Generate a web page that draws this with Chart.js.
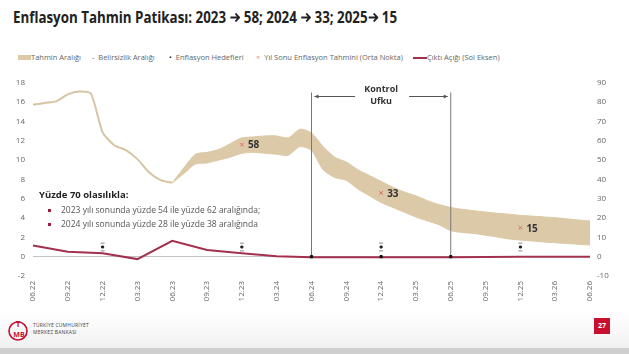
<!DOCTYPE html>
<html lang="tr">
<head>
<meta charset="utf-8">
<script src="https://cdn.jsdelivr.net/npm/chart.js@4.4.0/dist/chart.umd.min.js"></script>
<style>
    html, body { margin: 0; padding: 0; width: 629px; height: 354px; overflow: hidden; background: #fff; font-family: 'Open Sans', sans-serif; }
    #baslik { position: absolute; left: 13px; top: 6px; font-weight: 700; font-size: 16px; color: #222; white-space: nowrap; transform-origin: left top; }
    #baslik svg { vertical-align: middle; margin-top: -3px; }
    .lejant { position: absolute; top: 52px; font-size: 7.5px; line-height: 10px; color: #666; white-space: nowrap; }
    #grafik { position: absolute; left: 0; top: 70px; width: 629px; height: 245px; }
    .kutu { position: absolute; white-space: nowrap; }
    #kutuBaslik { left: 39px; top: 188px; font-size: 9.5px; font-weight: 700; color: #222; }
    .satir { left: 61px; font-size: 8.5px; color: #555; }
    .madde { position: absolute; left: 48px; width: 3px; height: 3px; background: #a01c3c; }
    #alt { position: absolute; left: 0; top: 312px; width: 629px; height: 36px; background: linear-gradient(#fff, #f1f1f1); }
    #altBant { position: absolute; left: 0; top: 348px; width: 629px; height: 6px; background: #cfcfcf; }
    .logoYazi { position: absolute; left: 33px; font-size: 5px; line-height: 6px; color: #444; letter-spacing: 0.2px; }
    #sayfa { position: absolute; left: 594px; top: 318px; width: 16px; height: 16px; background: #c8102e; color: #fff; font-size: 7px; font-weight: 700; text-align: center; line-height: 16px; }
</style>
</head>
<body>
<div id="baslik">Enflasyon Tahmin Patikası: 2023 <svg width="13" height="11" viewBox="0 0 13 11"><path d="M1 5.5 H11 M7 1.5 L11.5 5.5 L7 9.5" stroke="#222" stroke-width="2" fill="none"/></svg> 58; 2024 <svg width="13" height="11" viewBox="0 0 13 11"><path d="M1 5.5 H11 M7 1.5 L11.5 5.5 L7 9.5" stroke="#222" stroke-width="2" fill="none"/></svg> 33; 2025<svg width="13" height="11" viewBox="0 0 13 11"><path d="M1 5.5 H11 M7 1.5 L11.5 5.5 L7 9.5" stroke="#222" stroke-width="2" fill="none"/></svg> 15</div>

<div class="lejant" style="left:18px;"><span style="display:inline-block;width:13px;height:5px;background:#dcc9a7;vertical-align:middle;margin-top:-1px;"></span>Tahmin Aralığı</div>
<div class="lejant" style="left:92px;">-&nbsp;&nbsp;Belirsizlik Aralığı</div>
<div class="lejant" style="left:169px;"><span style="color:#222;">•</span>&nbsp;&nbsp;Enflasyon Hedefleri</div>
<div class="lejant" style="left:256px;"><span style="color:#e08a8a;">×</span>&nbsp;&nbsp;Yıl Sonu Enflasyon Tahmini (Orta Nokta)</div>
<div class="lejant" style="left:413px;"><span style="display:inline-block;width:14px;height:1.5px;background:#a3304c;vertical-align:middle;"></span>Çıktı Açığı (Sol Eksen)</div>

<div id="grafik"><canvas id="enflasyon"></canvas></div>

<div id="kutuBaslik" class="kutu">Yüzde 70 olasılıkla:</div>
<div class="madde" style="top:209px;"></div>
<div class="kutu satir" style="top:204px;">2023 yılı sonunda yüzde 54 ile yüzde 62 aralığında;</div>
<div class="madde" style="top:223px;"></div>
<div class="kutu satir" style="top:218px;">2024 yılı sonunda yüzde 28 ile yüzde 38 aralığında</div>

<div id="alt"></div>
<div id="altBant"></div>
<svg style="position:absolute;left:6px;top:318px;" width="26" height="24" viewBox="0 0 26 24">
    <circle cx="12" cy="13" r="9" fill="none" stroke="#c8102e" stroke-width="1.6"/>
    <text x="12" y="9" font-size="8" font-weight="700" fill="#c8102e" text-anchor="middle" font-family="Open Sans">T</text>
    <text x="13" y="19" font-size="7" font-weight="700" fill="#c8102e" text-anchor="middle" font-family="Open Sans">MB</text>
</svg>
<div class="logoYazi" style="top:322px;">TÜRKİYE CUMHURİYET</div>
<div class="logoYazi" style="top:329px;">MERKEZ BANKASI</div>
<div id="sayfa">27</div>

<script>
// aylar 06.22 - 06.26
const aylar = [
    '06.22', '07.22', '08.22', '09.22', '10.22', '11.22', '12.22',
    '01.23', '02.23', '03.23', '04.23', '05.23', '06.23', '07.23', '08.23', '09.23', '10.23', '11.23', '12.23',
    '01.24', '02.24', '03.24', '04.24', '05.24', '06.24', '07.24', '08.24', '09.24', '10.24', '11.24', '12.24',
    '01.25', '02.25', '03.25', '04.25', '05.25', '06.25', '07.25', '08.25', '09.25', '10.25', '11.25', '12.25',
    '01.26', '02.26', '03.26', '04.26', '05.26', '06.26'
];

// gerceklesen yillik enflasyon (sag eksen), 06.22 - 06.23
const gerceklesen = [78.6, 79.6, 80.4, 84.0, 85.5, 84.4, 64.3, 57.7, 55.2, 50.5, 43.7, 39.6, 38.2];

// tahmin araligi (sag eksen), 06.23 - 06.26
const tahminUst = [38.2, 46, 53, 54, 55.5, 58.5, 61.5, 62, 62.5, 62.5, 61.5, 66, 64, 57, 51.5, 49, 45, 42, 39, 36,
    33.5, 31.5, 29, 27, 25.5, 24.5, 23.8, 23.1, 22.5, 22, 21.4, 21, 20.6, 20.2, 19.6, 19, 18.5];
const tahminAlt = [38.2, 43, 48, 48.5, 50, 51.5, 53.5, 54, 53.5, 53, 52.5, 57, 55, 45, 41, 39.5, 35, 31.5, 28, 25.5,
    23, 20.5, 18.5, 16.5, 13.5, 12.5, 12, 11.1, 10.2, 9.2, 8.6, 8.1, 7.6, 7.2, 6.8, 6.4, 6];

// cikti acigi (sol eksen), ceyreklik
const ceyrekler = ['06.22', '09.22', '12.22', '03.23', '06.23', '09.23', '12.23', '03.24', '06.24',
    '09.24', '12.24', '03.25', '06.25', '09.25', '12.25', '03.26', '06.26'];
const ciktiAcigi = [1.15, 0.5, 0.35, -0.25, 1.65, 0.7, 0.35, 0.05, -0.05, -0.05, -0.05, -0.05, -0.05, -0.03, 0, 0, 0];

// hedefler ve yil sonu tahminleri
const hedefAylari = ['12.22', '12.23', '12.24', '12.25'];
const enflasyonHedefi = [5, 5, 5, 5];
const belirsizlikAlt = [3, 3, 3, 3];
const belirsizlikUst = [7, 7, 7, 7];
const yilSonuAylari = ['12.23', '12.24', '12.25'];
const yilSonuTahmin = [58, 33, 15];

// kontrol ufku
const kontrolBaslangic = '06.24';
const kontrolBitis = '06.25';
const kontrolIsaretleri = ['06.24', '12.24', '06.25'];

const bej = '#dcc9a7';
const bordo = '#a3304c';

// basligi olcup referans genisligine sigdir
const baslik = document.getElementById('baslik');
baslik.style.transform = 'scaleX(' + (384 / baslik.offsetWidth) + ')';

const noktalar = (etiketler, degerler) => etiketler.map((e, i) => ({ x: e, y: degerler[i] }));
const dikey = ay => [{ x: ay, y: 0 }, { x: ay, y: 85 }];

const yazilar = {
    id: 'yazilar',
    afterDatasetsDraw(chart) {
        const { ctx, scales } = chart;
        const x = scales.x, y1 = scales.y1;

        // yil sonu tahmin etiketleri
        const meta = chart.getDatasetMeta(6);
        ctx.save();
        ctx.font = 'bold 10px "Open Sans"';
        ctx.fillStyle = '#333';
        ctx.textBaseline = 'middle';
        meta.data.forEach((p, i) => ctx.fillText(String(yilSonuTahmin[i]), p.x + 6, p.y + 1));

        // kontrol ufku oklari
        const x1 = x.getPixelForValue(aylar.indexOf(kontrolBaslangic));
        const x2 = x.getPixelForValue(aylar.indexOf(kontrolBitis));
        const xm = (x1 + x2) / 2;
        const yo = Math.round(y1.getPixelForValue(83.3)) + 0.5;
        ctx.strokeStyle = '#555';
        ctx.fillStyle = '#555';
        ctx.lineWidth = 1;
        ctx.beginPath();
        ctx.moveTo(x1 + 3, yo); ctx.lineTo(xm - 26, yo);
        ctx.moveTo(xm + 28, yo); ctx.lineTo(x2 - 3, yo);
        ctx.stroke();
        ctx.beginPath();
        ctx.moveTo(x1 + 3, yo); ctx.lineTo(x1 + 7, yo - 2); ctx.lineTo(x1 + 7, yo + 2); ctx.closePath();
        ctx.moveTo(x2 - 3, yo); ctx.lineTo(x2 - 7, yo - 2); ctx.lineTo(x2 - 7, yo + 2); ctx.closePath();
        ctx.fill();

        ctx.font = 'bold 9px "Open Sans"';
        ctx.fillStyle = '#333';
        ctx.textAlign = 'center';
        ctx.fillText('Kontrol', xm, y1.getPixelForValue(86.8));
        ctx.fillText('Ufku', xm, y1.getPixelForValue(80.6));
        ctx.restore();
    }
};

new Chart(document.getElementById('enflasyon'), {
    type: 'line',
    data: {
        labels: aylar,
        datasets: [
            {
                label: 'Gerçekleşen',
                data: noktalar(aylar.slice(0, gerceklesen.length), gerceklesen),
                yAxisID: 'y1',
                borderColor: '#d6c4a2',
                borderWidth: 2,
                pointRadius: 0,
                tension: 0.2,
                order: 5
            },
            {
                label: 'Tahmin Aralığı',
                data: noktalar(aylar.slice(12), tahminUst),
                yAxisID: 'y1',
                borderColor: bej,
                backgroundColor: bej,
                borderWidth: 1,
                pointRadius: 0,
                tension: 0.25,
                fill: '+1',
                order: 10
            },
            {
                label: 'Tahmin Alt',
                data: noktalar(aylar.slice(12), tahminAlt),
                yAxisID: 'y1',
                borderColor: bej,
                borderWidth: 1,
                pointRadius: 0,
                tension: 0.25,
                fill: false,
                order: 10
            },
            {
                label: 'Çıktı Açığı (Sol Eksen)',
                data: noktalar(ceyrekler, ciktiAcigi),
                yAxisID: 'y',
                borderColor: bordo,
                borderWidth: 2,
                pointRadius: 0,
                order: 1
            },
            {
                label: 'Enflasyon Hedefleri',
                data: noktalar(hedefAylari, enflasyonHedefi),
                yAxisID: 'y1',
                showLine: false,
                pointStyle: 'rect',
                pointRadius: 1.4,
                backgroundColor: '#222',
                borderColor: '#222',
                order: 2
            },
            {
                label: 'Belirsizlik Aralığı',
                data: noktalar(hedefAylari, belirsizlikAlt).concat(noktalar(hedefAylari, belirsizlikUst)),
                yAxisID: 'y1',
                showLine: false,
                pointStyle: 'line',
                pointRadius: 2,
                borderWidth: 1,
                borderColor: '#888',
                order: 2
            },
            {
                label: 'Yıl Sonu Enflasyon Tahmini (Orta Nokta)',
                data: noktalar(yilSonuAylari, yilSonuTahmin),
                yAxisID: 'y1',
                showLine: false,
                pointStyle: 'crossRot',
                pointRadius: 2.5,
                borderWidth: 1,
                borderColor: '#e06b6b',
                order: 2
            },
            {
                label: 'Kontrol başlangıç',
                data: dikey(kontrolBaslangic),
                yAxisID: 'y1',
                borderColor: '#777',
                borderWidth: 1,
                pointRadius: 0,
                order: 3
            },
            {
                label: 'Kontrol bitiş',
                data: dikey(kontrolBitis),
                yAxisID: 'y1',
                borderColor: '#777',
                borderWidth: 1,
                pointRadius: 0,
                order: 3
            },
            {
                label: 'Kontrol işaretleri',
                data: kontrolIsaretleri.map(a => ({ x: a, y: 0 })),
                yAxisID: 'y',
                showLine: false,
                pointStyle: 'rect',
                pointRadius: 1.6,
                backgroundColor: '#111',
                borderColor: '#111',
                order: 0
            }
        ]
    },
    options: {
        responsive: true,
        maintainAspectRatio: false,
        animation: false,
        layout: { padding: { top: 12, left: 0, right: 0, bottom: 0 } },
        plugins: {
            legend: { display: false },
            tooltip: { enabled: false }
        },
        scales: {
            x: {
                type: 'category',
                offset: false,
                grid: { display: false, drawTicks: false },
                border: { display: false },
                ticks: {
                    autoSkip: false,
                    minRotation: 90,
                    maxRotation: 90,
                    padding: 5,
                    color: '#666',
                    font: { family: 'Open Sans', size: 8 },
                    callback: (v, i) => (i % 3 === 0 ? aylar[i] : '')
                },
                afterFit: s => { s.height = 39; }
            },
            y: {
                position: 'left',
                min: -2,
                max: 18,
                grid: {
                    drawTicks: false,
                    color: c => (c.tick.value === 0 ? '#c4c4c4' : 'rgba(0,0,0,0)')
                },
                border: { display: false },
                ticks: { stepSize: 2, padding: 8, color: '#666', font: { family: 'Open Sans', size: 8 } },
                afterFit: s => { s.width = 33; }
            },
            y1: {
                position: 'right',
                min: -10,
                max: 90,
                grid: { display: false, drawTicks: false },
                border: { display: false },
                ticks: { stepSize: 10, padding: 7, color: '#666', font: { family: 'Open Sans', size: 8 } },
                afterFit: s => { s.width = 39; }
            }
        }
    },
    plugins: [yazilar]
});
</script>
</body>
</html>
